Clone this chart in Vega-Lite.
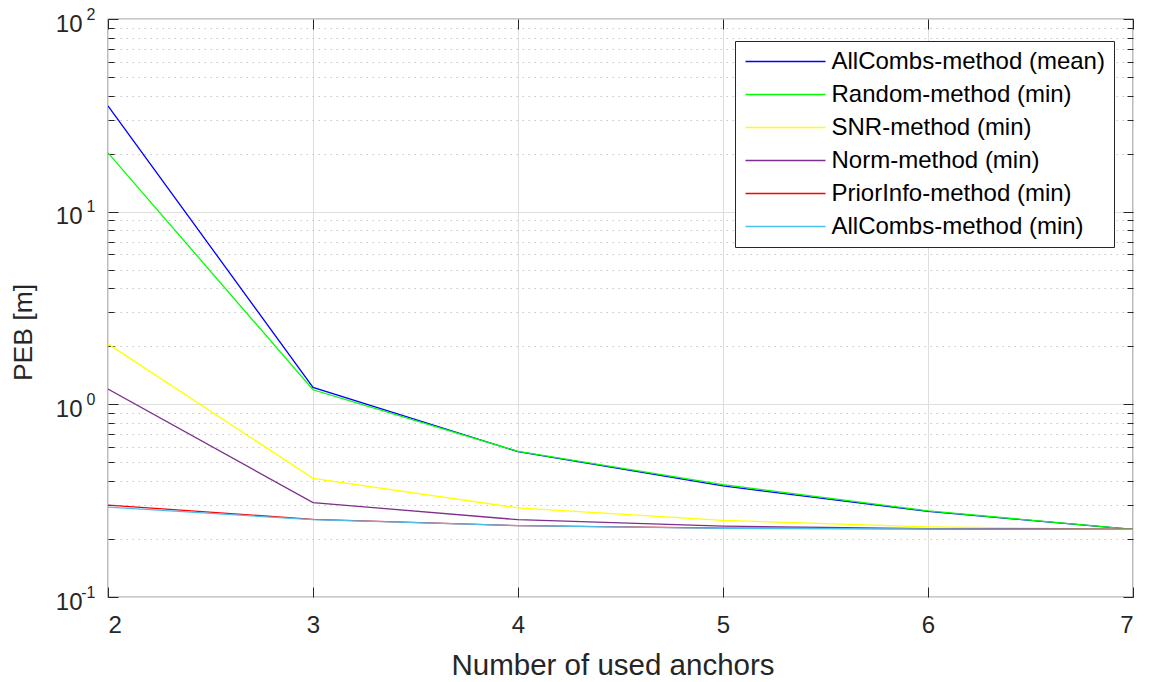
{
  "$schema": "https://vega.github.io/schema/vega-lite/v6.json",
  "width": 1025,
  "height": 578,
  "autosize": "none",
  "padding": {"left": 108, "top": 19, "right": 20, "bottom": 85},
  "background": "white",
  "config": {
    "view": {"stroke": "#262626", "strokeWidth": 1.2},
    "font": "Liberation Sans",
    "axis": {
      "labelFont": "Liberation Sans",
      "titleFont": "Liberation Sans",
      "labelColor": "#262626",
      "titleColor": "#262626",
      "titleFontWeight": "normal",
      "tickColor": "#262626",
      "domain": false
    }
  },
  "data": {
    "values": [
      {"anchors": 2, "PEB": 35.4, "series": "AllCombs-method (mean)"},
      {"anchors": 3, "PEB": 1.225, "series": "AllCombs-method (mean)"},
      {"anchors": 4, "PEB": 0.568, "series": "AllCombs-method (mean)"},
      {"anchors": 5, "PEB": 0.377, "series": "AllCombs-method (mean)"},
      {"anchors": 6, "PEB": 0.278, "series": "AllCombs-method (mean)"},
      {"anchors": 7, "PEB": 0.2244, "series": "AllCombs-method (mean)"},
      {"anchors": 2, "PEB": 20.2, "series": "Random-method (min)"},
      {"anchors": 3, "PEB": 1.19, "series": "Random-method (min)"},
      {"anchors": 4, "PEB": 0.57, "series": "Random-method (min)"},
      {"anchors": 5, "PEB": 0.383, "series": "Random-method (min)"},
      {"anchors": 6, "PEB": 0.28, "series": "Random-method (min)"},
      {"anchors": 7, "PEB": 0.2244, "series": "Random-method (min)"},
      {"anchors": 2, "PEB": 2.06, "series": "SNR-method (min)"},
      {"anchors": 3, "PEB": 0.413, "series": "SNR-method (min)"},
      {"anchors": 4, "PEB": 0.29, "series": "SNR-method (min)"},
      {"anchors": 5, "PEB": 0.25, "series": "SNR-method (min)"},
      {"anchors": 6, "PEB": 0.231, "series": "SNR-method (min)"},
      {"anchors": 7, "PEB": 0.2244, "series": "SNR-method (min)"},
      {"anchors": 2, "PEB": 1.2, "series": "Norm-method (min)"},
      {"anchors": 3, "PEB": 0.309, "series": "Norm-method (min)"},
      {"anchors": 4, "PEB": 0.252, "series": "Norm-method (min)"},
      {"anchors": 5, "PEB": 0.2335, "series": "Norm-method (min)"},
      {"anchors": 6, "PEB": 0.2265, "series": "Norm-method (min)"},
      {"anchors": 7, "PEB": 0.2244, "series": "Norm-method (min)"},
      {"anchors": 2, "PEB": 0.3, "series": "PriorInfo-method (min)"},
      {"anchors": 3, "PEB": 0.253, "series": "PriorInfo-method (min)"},
      {"anchors": 4, "PEB": 0.2345, "series": "PriorInfo-method (min)"},
      {"anchors": 5, "PEB": 0.228, "series": "PriorInfo-method (min)"},
      {"anchors": 6, "PEB": 0.2255, "series": "PriorInfo-method (min)"},
      {"anchors": 7, "PEB": 0.2244, "series": "PriorInfo-method (min)"},
      {"anchors": 2, "PEB": 0.293, "series": "AllCombs-method (min)"},
      {"anchors": 3, "PEB": 0.252, "series": "AllCombs-method (min)"},
      {"anchors": 4, "PEB": 0.2345, "series": "AllCombs-method (min)"},
      {"anchors": 5, "PEB": 0.227, "series": "AllCombs-method (min)"},
      {"anchors": 6, "PEB": 0.2255, "series": "AllCombs-method (min)"},
      {"anchors": 7, "PEB": 0.2244, "series": "AllCombs-method (min)"}
    ]
  },
  "resolve": {"axis": {"x": "independent", "y": "independent"}},
  "layer": [
    {
      "mark": {"type": "line", "strokeWidth": 1.3, "clip": true},
      "encoding": {
        "x": {
          "field": "anchors", "type": "quantitative",
          "scale": {"domain": [2, 7], "nice": false, "zero": false},
          "axis": {
            "title": "Number of used anchors",
            "titleFontSize": 29.5,
            "titlePadding": 14,
            "titleX": 504.5,
            "labelFontSize": 24,
            "values": [2, 3, 4, 5, 6, 7],
            "format": "d",
            "tickSize": -10,
            "labelPadding": 26,
            "grid": true,
            "gridColor": "#dedede",
            "gridWidth": 1
          }
        },
        "y": {
          "field": "PEB", "type": "quantitative",
          "scale": {"type": "log", "domain": [0.1, 100], "nice": false},
          "axis": {
            "title": "PEB [m]",
            "titleFontSize": 26.5,
            "titleX": -71,
            "titleY": 313,
            "labelFontSize": 24,
            "values": [0.1, 0.2, 0.3, 0.4, 0.5, 0.6, 0.7, 0.8, 0.9, 1, 2, 3, 4, 5, 6, 7, 8, 9, 10, 20, 30, 40, 50, 60, 70, 80, 90, 100],
            "labelExpr": "datum.value == 100 || datum.value == 10 || datum.value == 1 ? '10' : datum.value == 0.1 ? '10\u00a0' : ''",
            "labelOffset": 5,
            "labelPadding": 36,
            "tickSize": {"condition": {"test": "datum.value == 0.1 || datum.value == 1 || datum.value == 10 || datum.value == 100", "value": -10}, "value": -6},
            "grid": true,
            "gridColor": {"condition": {"test": "datum.value == 0.1 || datum.value == 1 || datum.value == 10 || datum.value == 100", "value": "#dedede"}, "value": "#c4c4c4"},
            "gridDash": {"condition": {"test": "datum.value == 0.1 || datum.value == 1 || datum.value == 10 || datum.value == 100", "value": []}, "value": [1.5, 4.5]},
            "gridWidth": 1
          }
        },
        "color": {
          "field": "series", "type": "nominal",
          "sort": ["AllCombs-method (mean)", "Random-method (min)", "SNR-method (min)", "Norm-method (min)", "PriorInfo-method (min)", "AllCombs-method (min)"],
          "scale": {
            "domain": ["AllCombs-method (mean)", "Random-method (min)", "SNR-method (min)", "Norm-method (min)", "PriorInfo-method (min)", "AllCombs-method (min)"],
            "range": ["#0000ff", "#00ff00", "#ffff00", "#7e2f8e", "#ff0000", "#4dbeee"]
          },
          "legend": {
            "title": null,
            "orient": "none",
            "legendX": 627,
            "legendY": 22,
            "symbolType": "M-4,0H4",
            "symbolSize": 400,
            "symbolStrokeWidth": 1.5,
            "symbolOffset": 30,
            "labelFont": "Liberation Sans",
            "labelFontSize": 24,
            "labelColor": "#000000",
            "labelLimit": 400,
            "labelOffset": 34,
            "rowPadding": 9,
            "padding": 8.5,
            "strokeColor": "#262626",
            "fillColor": "#ffffff"
          }
        }
      }
    },
    {
      "mark": {"type": "line", "opacity": 0},
      "encoding": {
        "x": {
          "field": "anchors", "type": "quantitative",
          "scale": {"domain": [2, 7], "nice": false, "zero": false},
          "axis": {"orient": "top", "title": null, "labels": false, "grid": false, "values": [2, 3, 4, 5, 6, 7], "tickSize": -10}
        },
        "y": {
          "field": "PEB", "type": "quantitative",
          "scale": {"type": "log", "domain": [0.1, 100], "nice": false},
          "axis": {
            "orient": "right", "title": null, "labels": false, "grid": false,
            "values": [0.1, 0.2, 0.3, 0.4, 0.5, 0.6, 0.7, 0.8, 0.9, 1, 2, 3, 4, 5, 6, 7, 8, 9, 10, 20, 30, 40, 50, 60, 70, 80, 90, 100],
            "tickSize": {"condition": {"test": "datum.value == 0.1 || datum.value == 1 || datum.value == 10 || datum.value == 100", "value": -10}, "value": -6}
          }
        }
      }
    },
    {
      "mark": {"type": "line", "opacity": 0},
      "encoding": {
        "x": {
          "field": "anchors", "type": "quantitative",
          "scale": {"domain": [2, 7], "nice": false, "zero": false},
          "axis": null
        },
        "y": {
          "field": "PEB", "type": "quantitative",
          "scale": {"type": "log", "domain": [0.1, 100], "nice": false},
          "axis": {
            "orient": "left", "title": null, "grid": false, "ticks": false,
            "values": [0.1, 1, 10, 100],
            "labelExpr": "datum.value == 100 ? '2' : datum.value == 10 ? '1' : datum.value == 1 ? '0' : '-1'",
            "labelFontSize": 16,
            "labelPadding": 13,
            "labelOffset": -5
          }
        }
      }
    }
  ]
}
